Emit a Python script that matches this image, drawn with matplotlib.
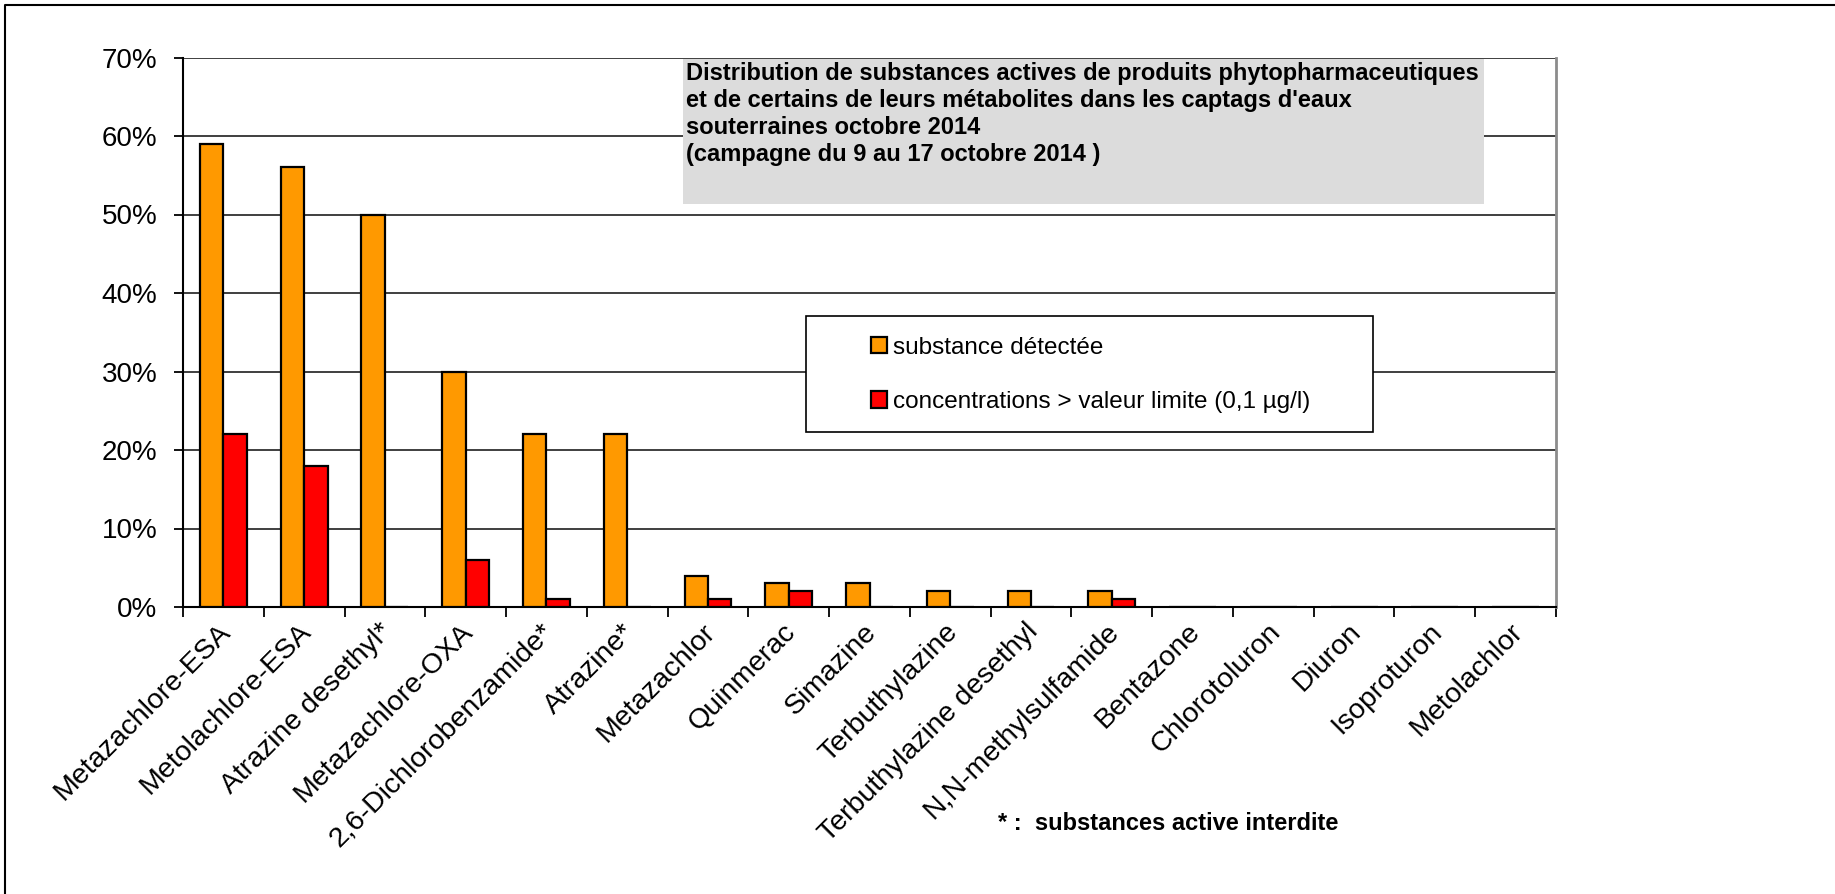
"""
Distribution of detected pesticide substances in groundwater, October 2014.
"""

import numpy as np
import matplotlib
matplotlib.use("Agg")
import matplotlib.pyplot as plt
from matplotlib.patches import Rectangle
from matplotlib.lines import Line2D
from matplotlib.transforms import ScaledTranslation
from matplotlib.ticker import PercentFormatter, MultipleLocator

substances = ["Metazachlore-ESA", "Metolachlore-ESA", "Atrazine desethyl*",
              "Metazachlore-OXA", "2,6-Dichlorobenzamide*", "Atrazine*",
              "Metazachlor", "Quinmerac", "Simazine", "Terbuthylazine",
              "Terbuthylazine desethyl", "N,N-methylsulfamide", "Bentazone",
              "Chlorotoluron", "Diuron", "Isoproturon", "Metolachlor"]
detected = [59, 56, 50, 30, 22, 22, 4, 3, 3, 2, 2, 2, 0, 0, 0, 0, 0]
over_limit = [22, 18, 0, 6, 1, 0, 1, 2, 0, 0, 0, 1, 0, 0, 0, 0, 0]

title = ("Distribution de substances actives de produits phytopharmaceutiques\n"
         "et de certains de leurs métabolites dans les captags d'eaux\n"
         "souterraines octobre 2014\n"
         "(campagne du 9 au 17 octobre 2014 )")
note = "* :  substances active interdite"

W, H = 1835, 894
sans = ["Liberation Sans", "DejaVu Sans"]

fig = plt.figure(figsize=(W / 100, H / 100), dpi=100)
ax = fig.add_axes([183 / W, 1 - 607 / H, (1556 - 183) / W, (607 - 57.5) / H])

x = np.arange(len(substances))
w = 0.29
ax.bar(x - w / 2, detected, w, color="#FF9900", edgecolor="black", linewidth=1.6,
       label="substance détectée", zorder=3)
ax.bar(x + w / 2, over_limit, w, color="#FF0000", edgecolor="black", linewidth=1.6,
       label="concentrations > valeur limite (0,1 µg/l)", zorder=3)

ax.set_xlim(-0.5, len(substances) - 0.5)
ax.set_ylim(0, 70)
ax.yaxis.set_major_locator(MultipleLocator(10))
ax.yaxis.set_major_formatter(PercentFormatter(decimals=0))
ax.grid(axis="y", color="#303030", linewidth=1.3, zorder=0)

ax.set_xticks(x)
ax.set_xticklabels(substances, rotation=45, ha="right", va="top",
                   rotation_mode="anchor", family=sans, fontsize=20.5)
ax.set_xticks(np.arange(len(substances) + 1) - 0.5, minor=True)
ax.tick_params(axis="x", which="major", length=0, pad=8.5)
ax.tick_params(axis="x", which="minor", length=7, width=1.3, direction="out")
ax.tick_params(axis="y", length=6.5, width=1.3, direction="out", pad=12)
shift = ScaledTranslation(-6 / 100, 0, fig.dpi_scale_trans)
for lab in ax.get_xticklabels():
    lab.set_transform(lab.get_transform() + shift)
for lab in ax.get_yticklabels():
    lab.set_family(sans)
    lab.set_fontsize(20)

for side in ["left", "bottom"]:
    ax.spines[side].set_color("black")
    ax.spines[side].set_linewidth(1.5)
ax.spines["top"].set_visible(False)
ax.spines["right"].set_color("#8c8c8c")
ax.spines["right"].set_linewidth(2)

# title box
fig.patches.append(Rectangle((683 / W, 1 - 204 / H), (1484 - 683) / W, (204 - 58.5) / H,
                             transform=fig.transFigure, facecolor="#DCDCDC",
                             edgecolor="none", zorder=5))
fig.text(686 / W, 1 - 62 / H, title, ha="left", va="top", family=sans,
         fontweight="bold", fontsize=17, linespacing=1.22, zorder=6)

# legend box
fig.patches.append(Rectangle((806 / W, 1 - 432 / H), (1373 - 806) / W, (432 - 316) / H,
                             transform=fig.transFigure, facecolor="white",
                             edgecolor="black", linewidth=1.2, zorder=5))
leg = fig.legend(loc="upper left", bbox_to_anchor=(849 / W, 1 - 315 / H),
                 frameon=False, prop={"family": sans, "size": 17.5},
                 handlelength=0.65, handleheight=0.65, handletextpad=0.25,
                 labelspacing=1.32)
leg.set_zorder(6)

fig.text(998 / W, 1 - 824 / H, note, ha="left", va="center", family=sans,
         fontweight="bold", fontsize=17)

# chart area border (left and top only)
fig.lines.append(Line2D([5 / W, 5 / W, 1], [0, 1 - 5 / H, 1 - 5 / H],
                        transform=fig.transFigure, color="black", linewidth=1.5))

fig.savefig("out.png", dpi=100)
